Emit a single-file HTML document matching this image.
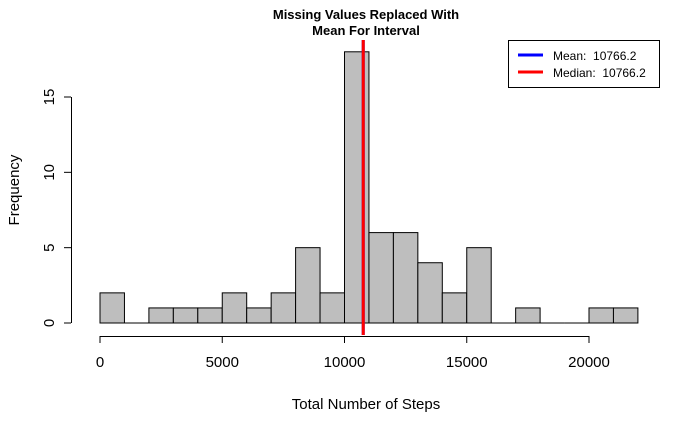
<!DOCTYPE html>
<html><head><meta charset="utf-8"><style>
body{margin:0;background:#fff}
svg text{font-family:"Liberation Sans",Arial,sans-serif;white-space:pre}
</style></head><body>
<svg id="c" width="700" height="432" xmlns="http://www.w3.org/2000/svg">
<rect width="700" height="432" fill="#fff"/>
<text x="366" y="19" text-anchor="middle" font-size="13" font-weight="bold">Missing Values Replaced With</text>
<text x="366" y="35" text-anchor="middle" font-size="13" font-weight="bold">Mean For Interval</text>
<text x="366" y="409" text-anchor="middle" font-size="15">Total Number of Steps</text>
<text transform="translate(19,190) rotate(-90)" text-anchor="middle" font-size="15">Frequency</text>
<g id="bars"></g><g id="axes"></g><g id="lines"></g>
<g>
<rect x="508.5" y="40.5" width="151" height="47" fill="#fff" stroke="#000"/>
<line x1="518" y1="55" x2="543" y2="55" stroke="#00f" stroke-width="3"/>
<line x1="518" y1="72" x2="543" y2="72" stroke="#f00" stroke-width="3"/>
<text x="553" y="60" font-size="12">Mean:&#160;&#160;10766.2</text>
<text x="553" y="77" font-size="12">Median:&#160;&#160;10766.2</text>
</g>
</svg>
<script>
const binStarts=[0,1000,2000,3000,4000,5000,6000,7000,8000,9000,10000,11000,12000,13000,14000,15000,16000,17000,18000,19000,20000,21000];
const counts=[2,0,1,1,1,2,1,2,5,2,18,6,6,4,2,5,0,1,0,0,1,1];
const binWidth=1000;
const xTicks=[0,5000,10000,15000,20000];
const yTicks=[0,5,10,15];
const meanVal=10766.2, medianVal=10766.2;
const X=v=>100+v*(489/20000);
const Y=v=>323-v*(226/15);
const NS="http://www.w3.org/2000/svg";
function mk(t,a,p){const e=document.createElementNS(NS,t);for(const k in a)e.setAttribute(k,a[k]);p.appendChild(e);return e;}
const bars=document.getElementById('bars'),axes=document.getElementById('axes'),lines=document.getElementById('lines');
binStarts.forEach((s,i)=>{
  if(counts[i]<=0){return;}
  const x0=X(s),x1=X(s+binWidth);
  const r=mk('rect',{x:x0,y:Y(counts[i]),width:x1-x0,height:Y(0)-Y(counts[i]),fill:'#bebebe',stroke:'#000','stroke-width':1},bars);
  
  
});
binStarts.forEach((s,i)=>{ if(counts[i]===0){const l=mk('line',{x1:X(s),x2:X(s+binWidth),y1:Y(0),y2:Y(0),stroke:'#000'},bars);
  
  }});
const xa=mk('line',{x1:X(xTicks[0]),x2:X(xTicks[xTicks.length-1]),y1:336.5,y2:336.5,stroke:'#000'},axes);


xTicks.forEach(v=>{mk('line',{x1:X(v),x2:X(v),y1:336,y2:343,stroke:'#000'},axes);
  const t=mk('text',{x:X(v),y:367,'text-anchor':'middle','font-size':15},axes);t.textContent=v;
  
  });
const ya=mk('line',{x1:71.5,x2:71.5,y1:Y(yTicks[0]),y2:Y(yTicks[yTicks.length-1]),stroke:'#000'},axes);


yTicks.forEach(v=>{mk('line',{x1:64,x2:71,y1:Y(v),y2:Y(v),stroke:'#000'},axes);
  const t=mk('text',{transform:`translate(54,${Y(v)}) rotate(-90)`,'text-anchor':'middle','font-size':15},axes);t.textContent=v;
  
  });
const ml=mk('line',{x1:X(meanVal),x2:X(meanVal),y1:40,y2:335,stroke:'#00f','stroke-width':3},lines);


const dl=mk('line',{x1:X(medianVal),x2:X(medianVal),y1:40,y2:335,stroke:'#f00','stroke-width':3},lines);


</script>
</body></html>
